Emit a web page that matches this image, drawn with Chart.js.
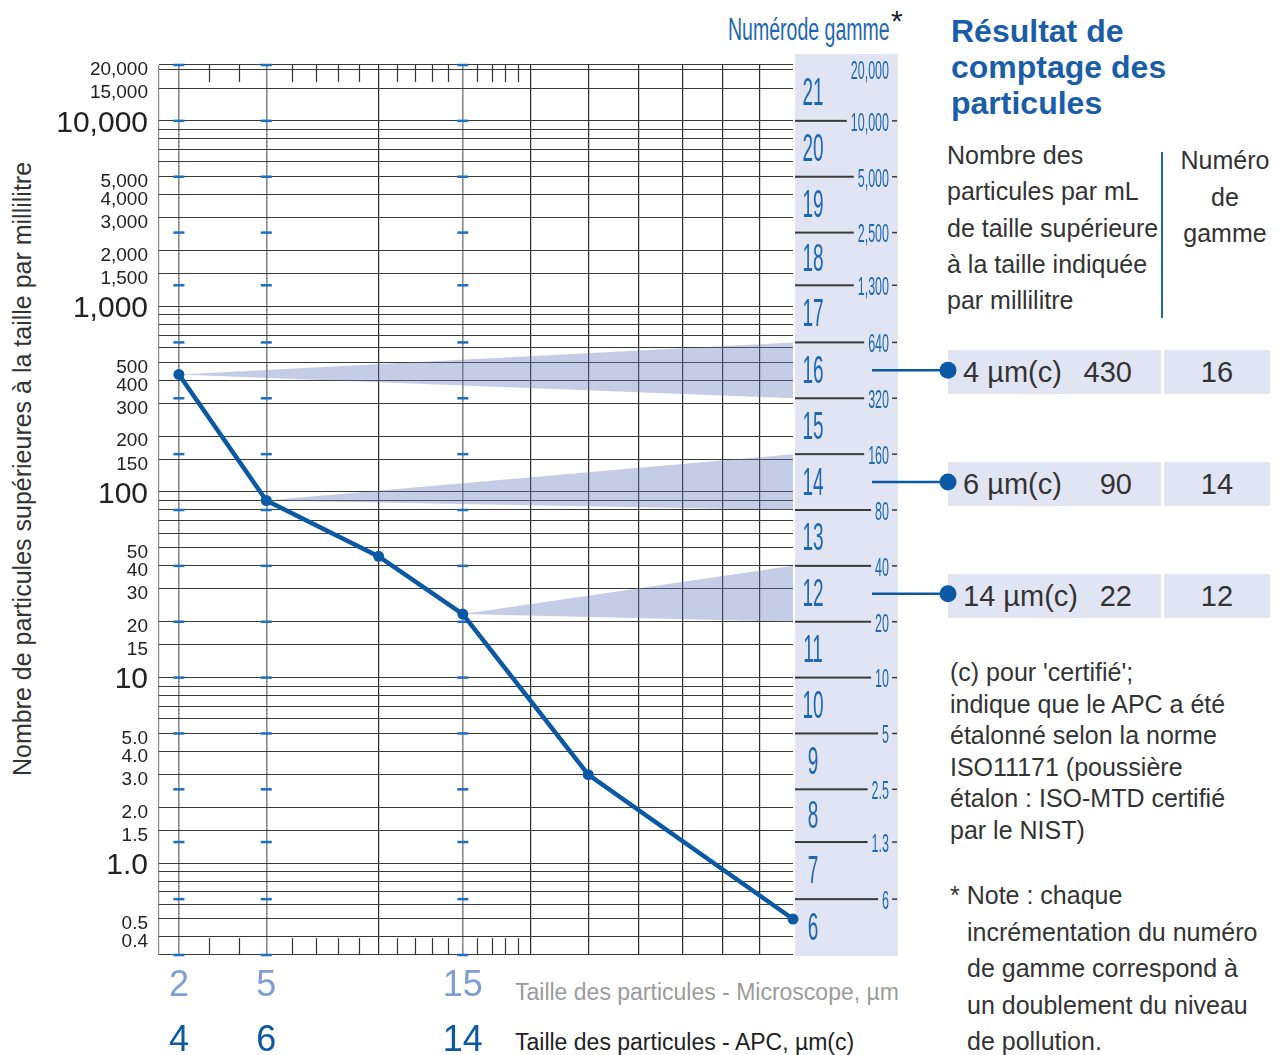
<!DOCTYPE html>
<html lang="fr">
<head>
<meta charset="utf-8">
<title>Résultat de comptage des particules</title>
<script src="https://cdn.jsdelivr.net/npm/chart.js@4.4.1/dist/chart.umd.min.js"></script>
<style>
	body { margin: 0; background: #fff; font-family: "Liberation Sans", Arial, sans-serif; color: #333; }
	#wrap { position: relative; width: 1283px; height: 1055px; overflow: hidden; }
	#canvasBox { position: absolute; left: 0; top: 0; width: 1283px; height: 1055px; z-index: 2; }
	.abs { position: absolute; white-space: nowrap; z-index: 1; }
	#yTitle { left: 22px; top: 469px; font-size: 25px; transform: translate(-50%, -50%) rotate(-90deg); }
	#gamme { left: 728px; top: 12px; font-size: 31px; line-height: 36px; color: #1f68b1; transform-origin: 0 50%; transform: scaleX(0.63); }
	#star { left: 891px; top: 4px; font-size: 30px; color: #222; }
	.xTitle { left: 515px; font-size: 23px; line-height: 30px; }
	#xTitle1 { top: 977px; color: #9b9b9b; }
	#xTitle2 { top: 1027px; color: #222; }
	#resTitle { left: 951px; top: 13px; font-size: 32px; line-height: 36px; font-weight: bold; color: #1a5ea8; }
	#head1 { left: 947px; top: 137px; font-size: 25px; line-height: 36.3px; }
	#head2 { left: 1175px; top: 142px; width: 100px; text-align: center; font-size: 25px; line-height: 36.5px; }
	#headLine { left: 1161px; top: 152px; width: 2px; height: 166px; background: #1f68b1; }
	.row { left: 948px; height: 44px; font-size: 29px; line-height: 44px; color: #333; }
	.row .b1 { position: absolute; left: 0; width: 213px; height: 44px; background: #e1e5f3; }
	.row .b1 .s { position: absolute; left: 15px; }
	.row .b1 .n { position: absolute; right: 29px; }
	.row .b2 { position: absolute; left: 216px; width: 106px; height: 44px; background: #e1e5f3; text-align: center; }
	#foot1 { left: 950px; top: 657px; font-size: 25px; line-height: 31.5px; }
	#foot2 { left: 950px; top: 877px; font-size: 25px; line-height: 36.5px; padding-left: 17px; text-indent: -17px; }
</style>
</head>
<body>
<div id="wrap">
	<div id="canvasBox"><canvas id="isoChart"></canvas></div>

	<div class="abs" id="yTitle">Nombre de particules supérieures à la taille par millilitre</div>
	<div class="abs" id="gamme">Numérode gamme</div>
	<div class="abs" id="star">*</div>
	<div class="abs xTitle" id="xTitle1">Taille des particules - Microscope, µm</div>
	<div class="abs xTitle" id="xTitle2">Taille des particules - APC, µm(c)</div>

	<div class="abs" id="resTitle">Résultat de<br>comptage des<br>particules</div>
	<div class="abs" id="head1">Nombre des<br>particules par mL<br>de taille supérieure<br>à la taille indiquée<br>par millilitre</div>
	<div class="abs" id="headLine"></div>
	<div class="abs" id="head2">Numéro<br>de<br>gamme</div>
	<div id="rows"></div>

	<div class="abs" id="foot1">(c) pour 'certifié';<br>indique que le APC a été<br>étalonné selon la norme<br>ISO11171 (poussière<br>étalon : ISO-MTD certifié<br>par le NIST)</div>
	<div class="abs" id="foot2">* Note : chaque<br>incrémentation du numéro<br>de gamme correspond à<br>un doublement du niveau<br>de pollution.</div>
</div>

<script>
const FONT = '"Liberation Sans", Arial, sans-serif';

// courbe mesurée
const microSizes = [2, 5, 10, 15, 25, 50];
const particleCounts = [430, 90, 45, 22, 3, 0.5];

// axe des tailles
const labeledSizes = [2, 5, 15];
const microLabels = ['2', '5', '15'];
const apcLabels = ['4', '6', '14'];
const xGridSizes = [1, 2, 5, 10, 15, 20, 25, 30, 35, 40, 45, 50];
const xShortTicks = [3, 4, 6, 7, 8, 9, 11, 12, 13, 14, 16, 17, 18, 19];

// axe des comptages
const yGridValues = [0.32, 0.4, 0.5, 0.6, 0.7, 0.8, 0.9, 1, 1.5, 2, 3, 4, 5, 6, 7, 8, 9,
	10, 15, 20, 30, 40, 50, 60, 70, 80, 90, 100, 150, 200, 300, 400, 500, 600, 700, 800, 900,
	1000, 1500, 2000, 3000, 4000, 5000, 6000, 7000, 8000, 9000, 10000, 15000, 19000, 20000];
const yLabelValues = [20000, 15000, 10000, 5000, 4000, 3000, 2000, 1500, 1000, 500, 400, 300,
	200, 150, 100, 50, 40, 30, 20, 15, 10, 5, 4, 3, 2, 1.5, 1, 0.5, 0.4];
const yLabelTexts = ['20,000', '15,000', '10,000', '5,000', '4,000', '3,000', '2,000', '1,500',
	'1,000', '500', '400', '300', '200', '150', '100', '50', '40', '30', '20', '15', '10',
	'5.0', '4.0', '3.0', '2.0', '1.5', '1.0', '0.5', '0.4'];
const yBigLabels = [10000, 1000, 100, 10, 1];

// numéros de gamme
const rangeCodes = [6, 7, 8, 9, 10, 11, 12, 13, 14, 15, 16, 17, 18, 19, 20, 21];
const rangeBounds = [0.32, 0.64, 1.3, 2.5, 5, 10, 20, 40, 80, 160, 320, 640, 1300, 2500, 5000, 10000, 20000];
const rangeBoundLabels = ['', '6', '1.3', '2.5', '5', '10', '20', '40', '80', '160', '320', '640',
	'1,300', '2,500', '5,000', '10,000', '20,000'];

// résultat
const resultSizes = ['4 µm(c)', '6 µm(c)', '14 µm(c)'];
const resultCounts = [430, 90, 22];
const resultCodes = [16, 14, 12];
const resultPointIndex = [0, 1, 3];

const codeCenter = code => Math.sqrt(rangeBounds[code - 6] * rangeBounds[code - 5]);

// échelle des tailles : position proportionnelle à (log d)²
const sq = v => Math.pow(Math.log10(v), 2);
class LogSquareScale extends Chart.LinearScale {
	static id = 'logsquare';
	static defaults = {};
	getPixelForValue(value) {
		if (value === null || value === undefined) return NaN;
		const t0 = sq(this.min), t1 = sq(this.max);
		return this.getPixelForDecimal((sq(value) - t0) / (t1 - t0));
	}
	getValueForPixel(pixel) {
		const t0 = sq(this.min), t1 = sq(this.max);
		return Math.pow(10, Math.sqrt(t0 + this.getDecimalForPixel(pixel) * (t1 - t0)));
	}
}
Chart.register(LogSquareScale);

function condensed(ctx, text, px, py, size, sx, align) {
	ctx.save();
	ctx.translate(px, py);
	ctx.scale(sx, 1);
	ctx.font = size + 'px ' + FONT;
	ctx.textAlign = align;
	ctx.textBaseline = 'middle';
	ctx.fillText(text, 0, 0);
	const w = ctx.measureText(text).width * sx;
	ctx.restore();
	return w;
}

const extras = {
	id: 'extras',
	beforeDraw(chart) {
		const { ctx, chartArea: a } = chart;
		const y = chart.scales.y;
		ctx.save();
		// bande des numéros de gamme
		ctx.fillStyle = '#e1e5f3';
		ctx.fillRect(a.right + 2, 54, 103, a.bottom + 1 - 54);

		const last = rangeBounds.length - 1;
		rangeBounds.forEach((v, i) => {
			const label = rangeBoundLabels[i];
			if (!label) return;
			const py = y.getPixelForValue(v);
			ctx.fillStyle = '#1f68b1';
			const w = condensed(ctx, label, 889, py + (i === last ? 7 : 3), 25, 0.5, 'right');
			if (i === last) return;
			ctx.fillStyle = '#3a3a3a';
			ctx.fillRect(a.right + 2, py - 1, 889 - w - 4 - (a.right + 2), 2);
			ctx.fillRect(892, py - 0.75, 5, 1.5);
		});
		ctx.fillStyle = '#1f68b1';
		rangeCodes.forEach(code => {
			condensed(ctx, String(code), 813, y.getPixelForValue(codeCenter(code)) + 2, 38, 0.5, 'center');
		});

		// liaisons vers le tableau
		ctx.strokeStyle = '#0b58a5';
		ctx.fillStyle = '#0b58a5';
		ctx.lineWidth = 2.5;
		resultCodes.forEach(code => {
			const py = y.getPixelForValue(codeCenter(code));
			ctx.beginPath();
			ctx.moveTo(872, py);
			ctx.lineTo(948, py);
			ctx.stroke();
			ctx.beginPath();
			ctx.arc(948, py, 8.5, 0, Math.PI * 2);
			ctx.fill();
		});
		ctx.restore();
	},
	beforeDatasetsDraw(chart) {
		const { ctx, chartArea: a } = chart;
		const { x, y } = chart.scales;
		ctx.save();
		// petites graduations haut et bas
		ctx.strokeStyle = '#333';
		ctx.lineWidth = 1.2;
		xShortTicks.forEach(s => {
			const px = Math.round(x.getPixelForValue(s)) + 0.5;
			ctx.beginPath();
			ctx.moveTo(px, a.top);
			ctx.lineTo(px, a.top + 17);
			ctx.moveTo(px, a.bottom - 17);
			ctx.lineTo(px, a.bottom);
			ctx.stroke();
		});
		// repères bleus des limites de gamme
		ctx.fillStyle = '#1f6fbf';
		labeledSizes.forEach(s => {
			const px = x.getPixelForValue(s);
			rangeBounds.forEach(v => {
				ctx.fillRect(px - 5.5, y.getPixelForValue(v) - 1.25, 11, 2.5);
			});
		});
		ctx.restore();
	},
	afterDraw(chart) {
		const { ctx } = chart;
		const x = chart.scales.x;
		ctx.save();
		ctx.font = '36px ' + FONT;
		ctx.textAlign = 'center';
		ctx.textBaseline = 'middle';
		labeledSizes.forEach((s, i) => {
			const px = x.getPixelForValue(s);
			ctx.fillStyle = '#809dd3';
			ctx.fillText(microLabels[i], px, 986);
			ctx.fillStyle = '#0b58a5';
			ctx.fillText(apcLabels[i], px, 1041);
		});
		ctx.restore();
	}
};

const wedgeSets = [];
resultCodes.forEach((code, i) => {
	const k = resultPointIndex[i];
	const apex = { x: microSizes[k], y: particleCounts[k] };
	const common = { borderWidth: 0, pointRadius: 0, order: 1, backgroundColor: 'rgba(100,120,190,0.38)' };
	wedgeSets.push({ ...common, data: [apex, { x: 50, y: rangeBounds[code - 5] }], fill: false });
	wedgeSets.push({ ...common, data: [apex, { x: 50, y: rangeBounds[code - 6] }], fill: '-1' });
});

const mainSet = {
	data: microSizes.map((s, i) => ({ x: s, y: particleCounts[i] })),
	borderColor: '#0b58a5',
	backgroundColor: '#0b58a5',
	borderWidth: 4.5,
	pointRadius: 5.5,
	pointBorderWidth: 0,
	tension: 0,
	clip: false,
	order: 0
};

// une première ligne vide décale le libellé sous sa ligne (de lineHeight / 2)
const labelOf = v => {
	const i = yLabelValues.indexOf(v);
	return i < 0 ? '' : ['', yLabelTexts[i]];
};

const chart = new Chart(document.getElementById('isoChart'), {
	type: 'line',
	data: { datasets: [...wedgeSets, mainSet] },
	options: {
		responsive: true,
		maintainAspectRatio: false,
		animation: false,
		layout: { padding: { top: 65, right: 490, left: 0, bottom: 0 } },
		plugins: { legend: { display: false }, tooltip: { enabled: false } },
		scales: {
			x: {
				type: 'logsquare',
				min: 1,
				max: 50,
				bounds: 'data',
				afterBuildTicks: s => { s.ticks = xGridSizes.map(v => ({ value: v })); },
				afterFit: s => { s.height = 100; },
				ticks: { display: false },
				border: { display: false },
				grid: {
					drawTicks: false,
					color: c => {
						const v = c.tick && c.tick.value;
						if (v === 50) return 'rgba(0,0,0,0)';
						return (v === 1 || labeledSizes.includes(v)) ? '#8a8a8a' : '#2a2a2a';
					},
					lineWidth: c => (c.tick && labeledSizes.includes(c.tick.value)) ? 1.6 : 1.2
				}
			},
			y: {
				type: 'logarithmic',
				min: 0.32,
				max: 20000,
				bounds: 'data',
				afterBuildTicks: s => { s.ticks = yGridValues.map(v => ({ value: v })); },
				afterFit: s => { s.width = 159; },
				border: { display: false },
				grid: { drawTicks: false, color: '#3a3a3a', lineWidth: 1.1 },
				ticks: {
					autoSkip: false,
					padding: 11,
					color: '#222',
					font: c => {
						const big = c.tick && yBigLabels.includes(c.tick.value);
						return { family: FONT, size: big ? 30 : 19, lineHeight: big ? '5px' : '10px' };
					},
					callback: v => labelOf(v)
				}
			}
		}
	},
	plugins: [extras]
});

// lignes du tableau, alignées sur le centre de leur gamme
const rowsBox = document.getElementById('rows');
resultCodes.forEach((code, i) => {
	const row = document.createElement('div');
	row.className = 'abs row';
	row.style.top = (chart.scales.y.getPixelForValue(codeCenter(code)) - 20) + 'px';
	row.innerHTML = '<div class="b1"><span class="s">' + resultSizes[i] + '</span><span class="n">' +
		resultCounts[i] + '</span></div><div class="b2">' + code + '</div>';
	rowsBox.appendChild(row);
});
</script>
</body>
</html>
